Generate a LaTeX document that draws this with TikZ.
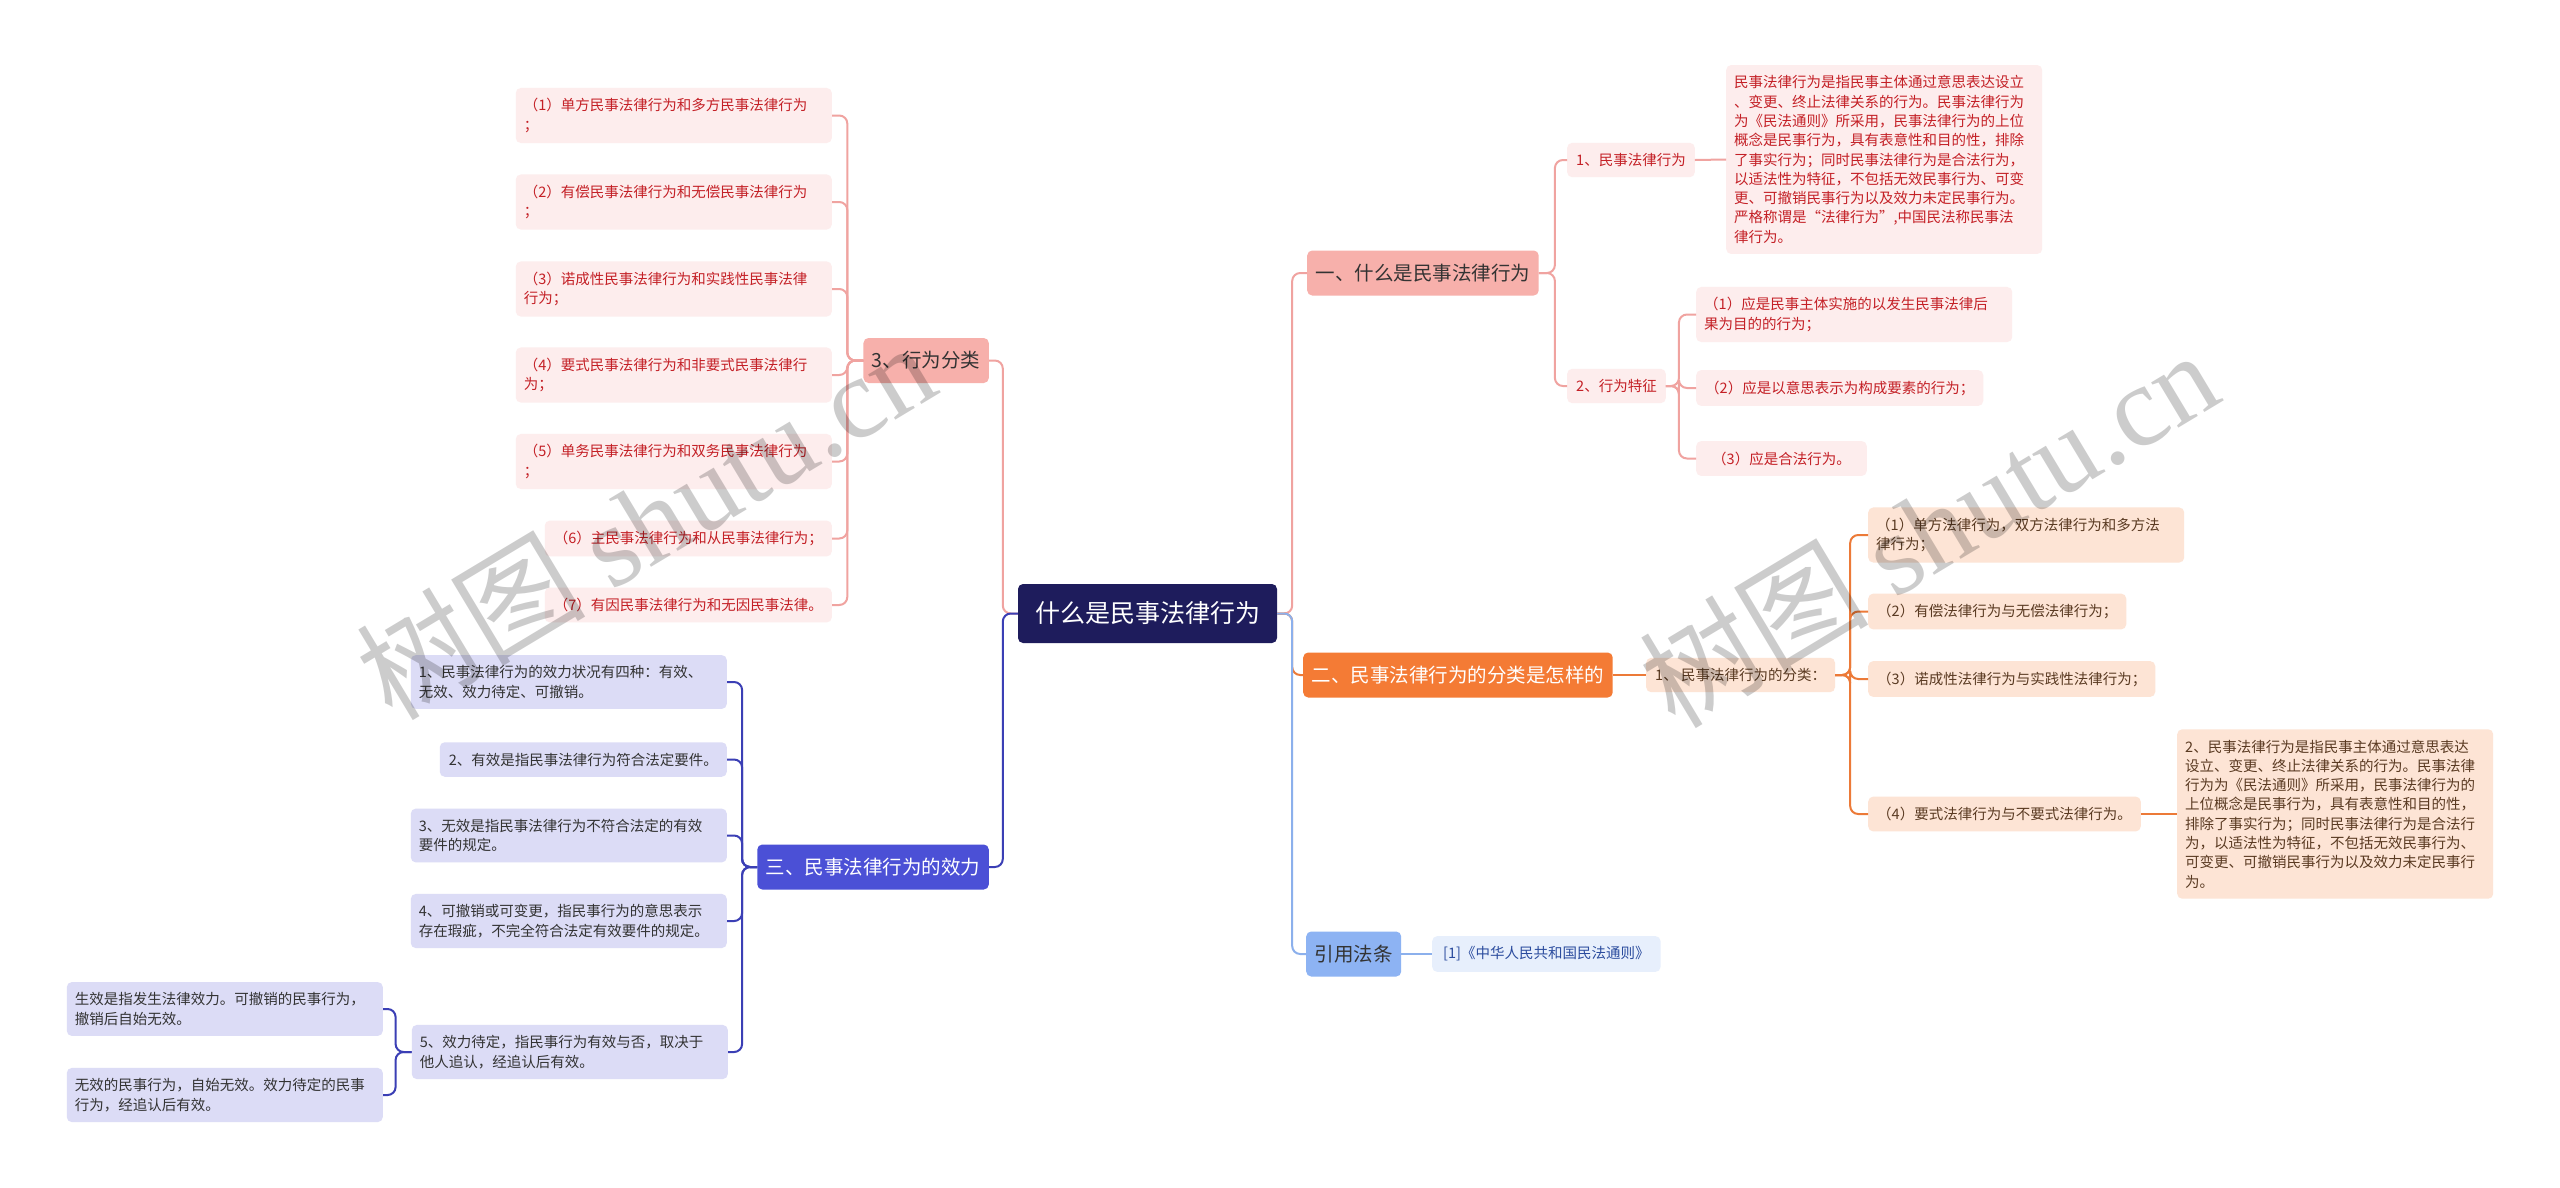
\documentclass[tikz,border=0pt]{standalone}
\usepackage{fontspec}
\setmainfont{Noto Sans CJK SC}
\newfontfamily\wmfont{Liberation Serif}

\definecolor{rootc}{HTML}{1E1C5C}
\definecolor{pinkmain}{HTML}{F7B0AB}
\definecolor{pinkleaf}{HTML}{FDEDED}
\definecolor{pinktext}{HTML}{C42026}
\definecolor{orangemain}{HTML}{F47B35}
\definecolor{peach}{HTML}{FDE4D5}
\definecolor{browntext}{HTML}{5A3A22}
\definecolor{bluemain}{HTML}{4B50D6}
\definecolor{lavender}{HTML}{DCDCF6}
\definecolor{darktext}{HTML}{333333}
\definecolor{skymain}{HTML}{8DB3F3}
\definecolor{citefill}{HTML}{E7EFFC}
\definecolor{citetext}{HTML}{2B4C9E}
\definecolor{plinec}{HTML}{F0A3A0}
\definecolor{olinec}{HTML}{EC7A38}
\definecolor{nlinec}{HTML}{3B3FB5}
\definecolor{slinec}{HTML}{8CB0EC}

\begin{document}
\begin{tikzpicture}[
    x=1pt,
    y=-1pt,
    leafbox/.style={rounded corners=5pt, inner xsep=9pt, inner ysep=10.5pt, align=left, font=\fontsize{14.5}{19.3}\selectfont},
    widebox/.style={leafbox, text width=300pt, inner xsep=8pt},
    mainbox/.style={rounded corners=5pt, inner xsep=8.5pt, minimum height=45pt, font=\fontsize{19.5}{24}\selectfont},
    rootbox/.style={rounded corners=5pt, inner xsep=17pt, minimum height=59pt, fill=rootc, text=white, font=\fontsize{25}{30}\selectfont},
    pinkleaf/.style={fill=pinkleaf, text=pinktext},
    peachleaf/.style={fill=peach, text=browntext},
    lavleaf/.style={fill=lavender, text=darktext},
    link/.style={line width=2pt, rounded corners=8pt},
    wm/.style={text=black, text opacity=0.2, font=\fontsize{115}{120}\selectfont, rotate=31},
]

% Background and bounding box
\fill[white] (0,0) rectangle (2560,1187);
\useasboundingbox (0,0) rectangle (2560,1187);

% Root
\node[rootbox] (root) at (1147.5,613.5) {什么是民事法律行为};

% Main branches
\node[mainbox, fill=pinkmain, text=darktext, anchor=west] (b1) at (1307,273) {一、什么是民事法律行为};
\node[mainbox, fill=orangemain, text=white, anchor=west] (b2) at (1303,675) {二、民事法律行为的分类是怎样的};
\node[mainbox, fill=skymain, text=darktext, anchor=west] (b4) at (1306,954) {引用法条};
\node[mainbox, fill=pinkmain, text=darktext, anchor=east] (b3) at (989,360.5) {3、行为分类};
\node[mainbox, fill=bluemain, text=white, anchor=east] (b5) at (989,867) {三、民事法律行为的效力};

% Branch one
\node[leafbox, pinkleaf, anchor=west] (r1) at (1567,160) {1、民事法律行为};
\node[widebox, pinkleaf, anchor=west] (r1d) at (1726,159.5) {民事法律行为是指民事主体通过意思表达设立\\、变更、终止法律关系的行为。民事法律行为\\为《民法通则》所采用，民事法律行为的上位\\概念是民事行为，具有表意性和目的性，排除\\了事实行为；同时民事法律行为是合法行为，\\以适法性为特征，不包括无效民事行为、可变\\更、可撤销民事行为以及效力未定民事行为。\\严格称谓是“法律行为”,中国民法称民事法\\律行为。};
\node[leafbox, pinkleaf, anchor=west] (r2) at (1567,386) {2、行为特征};
\node[widebox, pinkleaf, anchor=west] (r2a) at (1696,314.5) {（1）应是民事主体实施的以发生民事法律后\\果为目的的行为；};
\node[leafbox, pinkleaf, anchor=west] (r2b) at (1696,388) {（2）应是以意思表示为构成要素的行为；};
\node[leafbox, pinkleaf, anchor=west, inner xsep=16pt] (r2c) at (1696,458.5) {（3）应是合法行为。};

% Branch two
\node[leafbox, peachleaf, anchor=west] (o1) at (1646,675) {1、 民事法律行为的分类：};
\node[widebox, peachleaf, anchor=west] (o1a) at (1868,535) {（1）单方法律行为，双方法律行为和多方法\\律行为；};
\node[leafbox, peachleaf, anchor=west] (o1b) at (1868,611.5) {（2）有偿法律行为与无偿法律行为；};
\node[leafbox, peachleaf, anchor=west] (o1c) at (1868,679) {（3）诺成性法律行为与实践性法律行为；};
\node[leafbox, peachleaf, anchor=west] (o1d) at (1868,814) {（4）要式法律行为与不要式法律行为。};
\node[widebox, peachleaf, anchor=west] (o1e) at (2177,814) {2、民事法律行为是指民事主体通过意思表达\\设立、变更、终止法律关系的行为。民事法律\\行为为《民法通则》所采用，民事法律行为的\\上位概念是民事行为，具有表意性和目的性，\\排除了事实行为；同时民事法律行为是合法行\\为，以适法性为特征，不包括无效民事行为、\\可变更、可撤销民事行为以及效力未定民事行\\为。};

% Cited law
\node[leafbox, fill=citefill, text=citetext, anchor=west, inner xsep=11pt] (c1) at (1432,954) {[1]《中华人民共和国民法通则》};

% Branch 3: classification
\node[widebox, pinkleaf, anchor=east] (p1) at (832,115.5) {（1）单方民事法律行为和多方民事法律行为\\；};
\node[widebox, pinkleaf, anchor=east] (p2) at (832,202) {（2）有偿民事法律行为和无偿民事法律行为\\；};
\node[widebox, pinkleaf, anchor=east] (p3) at (832,289) {（3）诺成性民事法律行为和实践性民事法律\\行为；};
\node[widebox, pinkleaf, anchor=east] (p4) at (832,375) {（4）要式民事法律行为和非要式民事法律行\\为；};
\node[widebox, pinkleaf, anchor=east] (p5) at (832,461.5) {（5）单务民事法律行为和双务民事法律行为\\；};
\node[leafbox, pinkleaf, anchor=east] (p6) at (832,538.5) {（6）主民事法律行为和从民事法律行为；};
\node[leafbox, pinkleaf, anchor=east] (p7) at (832,605) {（7）有因民事法律行为和无因民事法律。};

% Branch three: validity
\node[widebox, lavleaf, anchor=east] (e1) at (727,682) {1、民事法律行为的效力状况有四种：有效、\\无效、效力待定、可撤销。};
\node[leafbox, lavleaf, anchor=east] (e2) at (727,759.5) {2、有效是指民事法律行为符合法定要件。};
\node[widebox, lavleaf, anchor=east] (e3) at (727,835.5) {3、无效是指民事法律行为不符合法定的有效\\要件的规定。};
\node[widebox, lavleaf, anchor=east] (e4) at (727,921) {4、可撤销或可变更，指民事行为的意思表示\\存在瑕疵，不完全符合法定有效要件的规定。};
\node[widebox, lavleaf, anchor=east] (e5) at (728,1052) {5、效力待定，指民事行为有效与否，取决于\\他人追认，经追认后有效。};
\node[widebox, lavleaf, anchor=east] (e5a) at (383,1009) {生效是指发生法律效力。可撤销的民事行为，\\撤销后自始无效。};
\node[widebox, lavleaf, anchor=east] (e5b) at (383,1095) {无效的民事行为，自始无效。效力待定的民事\\行为，经追认后有效。};

% Root links
\draw[link, plinec] (root.east) -- ++(15,0) |- (b1.west);
\draw[link, olinec] (root.east) -- ++(15,0) |- (b2.west);
\draw[link, slinec] (root.east) -- ++(15,0) |- (b4.west);
\draw[link, plinec] (root.west) -- ++(-15,0) |- (b3.east);
\draw[link, nlinec] (root.west) -- ++(-15,0) |- (b5.east);

% Branch one links
\draw[link, plinec] (b1.east) -- ++(16,0) |- (r1.west);
\draw[link, plinec] (b1.east) -- ++(16,0) |- (r2.west);
\draw[link, plinec] (r1.east) -- (r1d.west);
\draw[link, plinec] (r2.east) -- ++(13,0) |- (r2a.west);
\draw[link, plinec] (r2.east) -- ++(13,0) |- (r2b.west);
\draw[link, plinec] (r2.east) -- ++(13,0) |- (r2c.west);

% Branch two links
\draw[link, olinec] (b2.east) -- (o1.west);
\draw[link, olinec] (o1.east) -- ++(15,0) |- (o1a.west);
\draw[link, olinec] (o1.east) -- ++(15,0) |- (o1b.west);
\draw[link, olinec] (o1.east) -- ++(15,0) |- (o1c.west);
\draw[link, olinec] (o1.east) -- ++(15,0) |- (o1d.west);
\draw[link, olinec] (o1d.east) -- (o1e.west);

% Cited law link
\draw[link, slinec] (b4.east) -- (c1.west);

% Branch 3 links
\draw[link, plinec] (b3.west) -- ++(-16,0) |- (p1.east);
\draw[link, plinec] (b3.west) -- ++(-16,0) |- (p2.east);
\draw[link, plinec] (b3.west) -- ++(-16,0) |- (p3.east);
\draw[link, plinec] (b3.west) -- ++(-16,0) |- (p4.east);
\draw[link, plinec] (b3.west) -- ++(-16,0) |- (p5.east);
\draw[link, plinec] (b3.west) -- ++(-16,0) |- (p6.east);
\draw[link, plinec] (b3.west) -- ++(-16,0) |- (p7.east);

% Branch three links
\draw[link, nlinec] (b5.west) -- ++(-15,0) |- (e1.east);
\draw[link, nlinec] (b5.west) -- ++(-15,0) |- (e2.east);
\draw[link, nlinec] (b5.west) -- ++(-15,0) |- (e3.east);
\draw[link, nlinec] (b5.west) -- ++(-15,0) |- (e4.east);
\draw[link, nlinec] (b5.west) -- ++(-15,0) |- (e5.east);
\draw[link, nlinec] (e5.west) -- ++(-16,0) |- (e5a.east);
\draw[link, nlinec] (e5.west) -- ++(-16,0) |- (e5b.east);

% Watermarks
\node[wm] (wm1) at (645,520) {树图 {\wmfont shutu.cn}};
\node[wm] (wm2) at (1928,528) {树图 {\wmfont shutu.cn}};

\end{tikzpicture}
\end{document}
